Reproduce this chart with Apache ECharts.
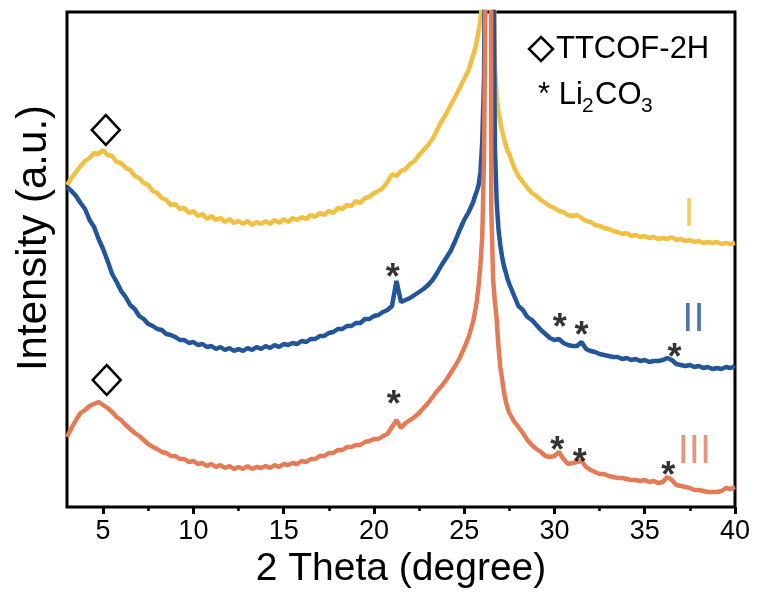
<!DOCTYPE html>
<html>
<head>
<meta charset="utf-8">
<script src="https://cdn.jsdelivr.net/npm/echarts@6/dist/echarts.min.js"></script>
<style>
html,body{margin:0;padding:0;background:#fff;}
#main{width:757px;height:603px;}
</style>
</head>
<body>
<div id="main"></div>
<script>
// 2 theta sample positions: 0.25 deg steps, 0.1 deg around the 26.4 peak
function range(a, b, step) {
    var out = [];
    var n = Math.round((b - a) / step);
    for (var i = 0; i <= n; i++) out.push(Math.round((a + i * step) * 100) / 100);
    return out;
}
var twoTheta = [].concat(range(3, 25.5, 0.25), range(25.6, 27.4, 0.1), range(27.5, 40, 0.25));

// intensities (a.u., offset stacked as in the figure)
var curveI = [
    322, 329, 335, 341, 346, 349, 354, 353, 357, 352, 351, 345,
    344, 339, 337, 331, 329, 324, 322, 316, 314, 309, 307, 302,
    303, 298, 299, 294, 296, 291, 293, 288, 291, 287, 289, 285,
    288, 284, 286, 283, 286, 282, 285, 283, 286, 283, 287, 284,
    288, 285, 289, 287, 290, 288, 292, 290, 294, 292, 296, 294,
    299, 298, 302, 301, 306, 304, 309, 310, 314, 316, 319, 325,
    333, 331, 336, 338, 343, 346, 352, 357, 362, 368, 377, 386,
    393, 402, 410, 419, 428, 437, 452,
    458, 466, 476, 488, 505, 560, 650, 760, 820, 760, 600, 440, 410, 395, 385, 376, 369, 362, 356,
    353, 340,
    331, 325, 319, 314, 311, 307, 304, 301, 299, 296, 295, 292,
    291, 292, 289, 286, 285, 282, 281, 279, 278, 276, 275, 273,
    274, 271, 272, 270, 271, 269, 270, 268, 269, 268, 270, 267,
    268, 266, 267, 265, 266, 264, 265, 264, 265, 263, 264, 263,
    264
];
var curveII = [
    320, 316, 311, 304, 298, 287, 280, 268, 258, 246, 233, 225,
    216, 210, 202, 198, 191, 188, 183, 181, 178, 177, 173, 172,
    170, 167, 167, 164, 165, 162, 163, 160, 161, 158, 160, 157,
    159, 156, 158, 156, 159, 157, 160, 158, 161, 159, 162, 160,
    163, 162, 164, 163, 166, 165, 168, 168, 171, 171, 174, 175,
    178, 178, 181, 181, 184, 184, 188, 188, 191, 192, 195, 197,
    201, 226, 205, 207, 209, 212, 215, 218, 222, 227, 234, 242,
    249, 256, 266, 277, 287, 295, 305,
    311, 316, 322, 335, 365, 430, 700, 1800, 2600, 1600, 620, 360, 305, 278, 262, 250, 241, 235, 228,
    223, 212,
    201, 197, 190, 187, 182, 177, 173, 169, 167, 168, 164, 162,
    161, 161, 165, 158, 156, 155, 153, 152, 151, 150, 150, 148,
    149, 147, 148, 146, 147, 145, 146, 146, 147, 149, 147, 143,
    142, 141, 142, 140, 141, 139, 140, 138, 139, 138, 140, 139,
    141
];
var curveIII = [
    70, 79, 87, 94, 97, 101, 103, 105, 102, 99, 95, 90,
    87, 82, 78, 74, 71, 67, 63, 60, 58, 55, 54, 51,
    51, 48, 48, 45, 46, 43, 44, 41, 43, 40, 42, 39,
    41, 38, 40, 38, 41, 38, 40, 39, 41, 39, 42, 40,
    43, 42, 44, 43, 46, 45, 48, 48, 51, 51, 54, 54,
    57, 57, 60, 60, 62, 62, 65, 66, 68, 68, 71, 73,
    80, 87, 79, 84, 87, 90, 94, 99, 104, 110, 116, 121,
    127, 134, 141, 149, 159, 170, 186,
    195, 206, 222, 242, 270, 350, 560, 2200, 2400, 300, 228, 205, 188, 160, 140, 128, 115, 106, 99,
    94, 86,
    80, 74, 67, 62, 58, 55, 51, 50, 51, 55, 48, 43,
    44, 45, 46, 40, 37, 35, 33, 33, 31, 30, 29, 29,
    28, 27, 27, 26, 27, 25, 26, 24, 25, 30, 27, 22,
    21, 20, 19, 17, 17, 16, 15, 15, 15, 16, 19, 18,
    20
];

var majorTicks = [5, 10, 15, 20, 25, 30, 35, 40];
var minorTicks = [7.5, 12.5, 17.5, 22.5, 27.5, 32.5, 37.5];

// peak markers
var starX = [21.05, 30.3, 31.5, 36.65, 21.1, 30.15, 31.4, 36.3];
var starY = [237, 187, 179, 157, 110, 64, 52, 39];
var diamondX = [5.15, 5.2];
var diamondY = [377, 127];
var tagText = ['I', 'II', 'III'];
var tagX = [37.45, 37.7, 37.75];
var tagY = [292, 187, 55];

var colors = ['#F1C043', '#23559A', '#E47B56'];
var fontName = "'Liberation Sans', Arial, sans-serif";

function pairs(xs, ys) {
    var out = [];
    for (var i = 0; i < ys.length; i++) out.push([xs[i], ys[i]]);
    return out;
}
function lineSeries(name, ys, color) {
    return {
        name: name,
        type: 'line',
        data: pairs(twoTheta, ys),
        showSymbol: false,
        symbol: 'none',
        lineStyle: { color: color, width: 4.5 },
        clip: true,
        z: 2
    };
}

var tagData = [];
for (var i = 0; i < tagText.length; i++) {
    tagData.push({
        value: [tagX[i], tagY[i]],
        label: { formatter: tagText[i], color: colors[i] }
    });
}

var chart = echarts.init(document.getElementById('main'));
var option = {
    animation: false,
    textStyle: { fontFamily: fontName },
    grid: { left: 67, right: 22, top: 12, bottom: 96, show: true, borderColor: '#000', borderWidth: 3 },
    xAxis: [{
        type: 'value',
        min: 3,
        max: 40,
        name: '2 Theta (degree)',
        nameLocation: 'middle',
        nameGap: 40,
        nameTextStyle: { fontSize: 39, color: '#000', fontFamily: fontName },
        axisLine: { show: false },
        axisTick: { show: true, length: 7, customValues: majorTicks, lineStyle: { color: '#000', width: 3 } },
        axisLabel: { customValues: majorTicks, fontSize: 27, color: '#000', margin: 11, fontFamily: fontName },
        splitLine: { show: false }
    }, {
        type: 'value',
        min: 3,
        max: 40,
        position: 'bottom',
        axisLine: { show: false },
        axisTick: { show: true, length: 4, customValues: minorTicks, lineStyle: { color: '#000', width: 2.5 } },
        axisLabel: { show: false },
        splitLine: { show: false }
    }],
    yAxis: {
        type: 'value',
        min: 0,
        max: 495,
        axisLine: { show: false },
        axisTick: { show: false },
        axisLabel: { show: false },
        splitLine: { show: false }
    },
    series: [
        lineSeries('I', curveI, colors[0]),
        lineSeries('II', curveII, colors[1]),
        lineSeries('III', curveIII, colors[2]),
        {
            type: 'scatter',
            data: pairs(starX, starY),
            symbol: 'circle',
            symbolSize: 1,
            itemStyle: { color: 'transparent' },
            label: {
                show: true, position: 'inside', formatter: '*',
                fontSize: 36, fontWeight: 'bold', color: '#000', offset: [0, 9]
            },
            z: 5
        },
        {
            type: 'scatter',
            data: pairs(diamondX, diamondY),
            symbol: 'diamond',
            symbolSize: [28, 30],
            itemStyle: { color: 'transparent', borderColor: '#000', borderWidth: 2.5, opacity: 1 },
            z: 5
        },
        {
            type: 'scatter',
            data: tagData,
            symbol: 'circle',
            symbolSize: 1,
            itemStyle: { color: 'transparent' },
            label: { show: true, position: 'inside', fontSize: 40, fontFamily: fontName },
            z: 5
        }
    ],
    graphic: [
        {
            type: 'text', x: 34, y: 238, rotation: Math.PI / 2,
            style: { text: 'Intensity (a.u.)', font: '42px ' + fontName, fill: '#000', align: 'center', verticalAlign: 'middle' }
        },
        {
            type: 'polygon',
            shape: { points: [[541, 37], [553, 49], [541, 61], [529, 49]] },
            style: { fill: 'none', stroke: '#000', lineWidth: 2.5 }
        },
        { type: 'text', x: 556, y: 49, style: { text: 'TTCOF-2H', font: '31px ' + fontName, fill: '#000', verticalAlign: 'middle' } },
        { type: 'text', x: 538, y: 95, style: { text: '* Li', font: '31px ' + fontName, fill: '#000', verticalAlign: 'middle' } },
        { type: 'text', x: 582, y: 106, style: { text: '2', font: '21px ' + fontName, fill: '#000', verticalAlign: 'middle' } },
        { type: 'text', x: 595, y: 95, style: { text: 'CO', font: '31px ' + fontName, fill: '#000', verticalAlign: 'middle' } },
        { type: 'text', x: 641, y: 106, style: { text: '3', font: '21px ' + fontName, fill: '#000', verticalAlign: 'middle' } }
    ]
};
chart.setOption(option);
</script>
</body>
</html>
